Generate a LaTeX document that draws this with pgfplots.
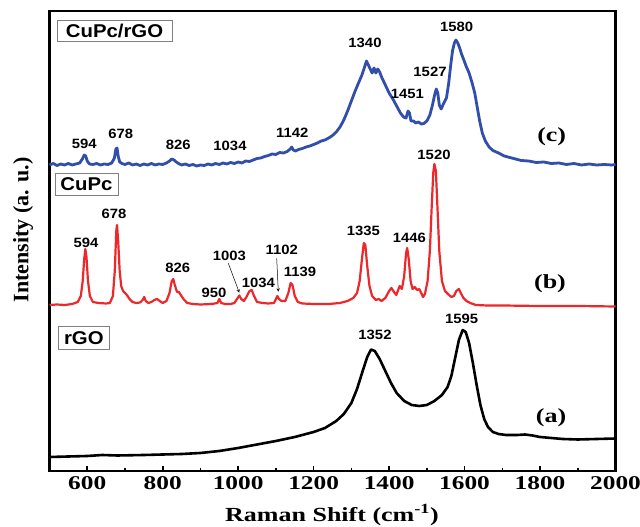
\documentclass[border=0pt]{standalone}
\usepackage{pgfplots}
\pgfplotsset{compat=1.18}
\usepackage{fontspec}
\setmainfont{Liberation Serif}
\newfontfamily\sansf{Liberation Sans}
\definecolor{cblue}{RGB}{48,78,170}
\definecolor{cred}{RGB}{236,40,42}
\newcommand{\sx}[1]{\scalebox{1.3}[1]{#1}}
\newcommand{\pk}[1]{\scalebox{1.1}[1]{\sansf\bfseries\fontsize{13.5}{13.5}\selectfont #1}}
\newcommand{\bx}[1]{\scalebox{1.1}[1]{\sansf\bfseries\fontsize{18.5}{18.5}\selectfont #1}}
\newcommand{\lab}[1]{\sx{\bfseries\fontsize{20}{20}\selectfont #1}}
\begin{document}
\begin{tikzpicture}[x=1pt,y=1pt]
\useasboundingbox (0,0) rectangle (640,527);
\begin{axis}[
  at={(49.5pt,56pt)}, anchor=south west,
  width=566pt, height=460pt, scale only axis,
  xmin=500, xmax=2000, ymin=0, ymax=460,
  xtick={600,800,...,2000},
  xticklabels={\sx{600},\sx{800},\sx{1000},\sx{1200},\sx{1400},\sx{1600},\sx{1800},\sx{2000}},
  minor x tick num=1,
  ytick=\empty,
  axis line style={line width=2.5pt},
  every tick/.style={black, line width=1.6pt},
  major tick length=5pt, minor tick length=3pt,
  xtick pos=bottom, tick align=inside,
  xticklabel style={font=\bfseries\fontsize{19.5}{19.5}\selectfont, yshift=-2pt},
  clip=false
]
% (a) rGO
\addplot[black, line width=2.6pt, line join=round] coordinates {
(500,14) (550,14.5) (600,15) (640,16) (680,15.5) (750,16) (800,16.5) (850,17)
(900,18) (950,20) (1000,23) (1050,26.5) (1100,30) (1150,34) (1200,39) (1230,43)
(1260,50) (1280,57) (1300,68) (1315,82) (1330,100) (1342,114) (1352,121.5)
(1362,120) (1375,112) (1390,100) (1405,88) (1420,78) (1440,70) (1460,66)
(1480,65) (1500,66) (1520,70) (1540,76) (1555,84) (1565,95) (1575,113)
(1585,131) (1595,141) (1603,139) (1612,128) (1622,108) (1632,86) (1642,66)
(1652,52) (1662,44) (1675,39) (1690,37) (1710,36) (1740,36) (1760,36.5)
(1780,35.5) (1800,34) (1830,33) (1860,32) (1900,31.5) (1950,32) (2000,32.5)
};
% (b) CuPc
\addplot[cred, line width=2.2pt, line join=round] coordinates {
(500,166) (520,166.5) (540,166) (560,167) (575,169) (583,175) (588,190)
(592,212) (595,222) (598,214) (602,190) (607,175) (615,169) (630,168)
(650,167.5) (660,168) (668,175) (673,200) (677,240) (679,246) (682,230)
(686,200) (690,185) (695,180) (700,178) (705,176) (712,172) (720,169)
(730,168) (740,168.5) (747,171) (751,174) (755,170) (762,168) (770,169)
(778,171) (785,172) (792,170) (800,168) (810,170) (818,178) (824,190)
(828,192) (832,186) (838,179) (843,179) (848,176) (855,172) (865,168)
(880,167) (900,166.5) (930,167) (945,168) (950,172) (955,168) (965,167)
(980,167) (990,168) (997,172) (1003,175.5) (1008,172) (1015,170) (1022,174)
(1030,180) (1036,181) (1042,175) (1050,169) (1065,168) (1080,167.5)
(1095,168) (1100,172) (1104,175) (1108,172) (1115,170) (1125,170) (1133,178)
(1139,188) (1144,186) (1150,175) (1158,169) (1170,167.5) (1200,167)
(1240,167) (1270,168) (1290,170) (1305,173) (1315,178) (1322,190) (1328,212)
(1333,228) (1337,226) (1342,205) (1348,185) (1355,175) (1365,171) (1372,172)
(1380,170) (1390,173) (1400,180) (1406,183) (1413,179) (1419,176) (1424,181)
(1428,185) (1434,182) (1440,195) (1445,218) (1448,223) (1452,212) (1457,190)
(1462,182) (1468,184) (1474,181) (1480,182) (1485,178) (1490,174) (1495,177)
(1502,190) (1508,220) (1513,265) (1517,298) (1520,307) (1524,300) (1528,265)
(1533,220) (1540,190) (1548,180) (1556,177) (1565,174) (1572,175) (1578,180)
(1585,182) (1590,178) (1597,173) (1605,170) (1615,168) (1630,166)
(1660,165.5) (1700,165.5) (1800,165) (1900,165) (2000,164.5)
};
% (c) CuPc/rGO
\addplot[cblue, line width=2.8pt, line join=round] coordinates {
(500,306) (510,307.5) (520,305.5) (530,307) (540,306) (550,307.5) (560,306)
(570,307) (580,308) (587,312) (592,316) (596,315) (600,310) (606,307)
(615,306.5) (625,307.5) (635,306) (645,307) (655,306.5) (665,308) (672,313)
(676,322) (679,323) (682,315) (686,309) (692,307.5) (700,306.5) (710,308)
(720,306) (730,307) (740,305.5) (750,307) (760,306) (770,307.5) (780,306)
(790,307) (800,306.5) (810,308) (818,310) (824,312) (830,311) (836,309)
(842,307.5) (850,306) (860,307) (870,305.5) (880,306.5) (890,305) (900,306)
(910,305.5) (920,307) (930,306) (940,307.5) (950,306.5) (960,308) (970,307)
(980,308.5) (990,307.5) (1000,309) (1010,308) (1020,310) (1030,309.5)
(1040,311) (1050,312.5) (1060,313) (1070,314.5) (1080,315.5) (1090,317)
(1100,316.5) (1110,318.5) (1120,318) (1130,319.5) (1138,322) (1142,324)
(1146,321) (1152,320) (1160,321.5) (1170,322.5) (1180,324) (1190,325)
(1200,326.5) (1210,328) (1220,330) (1230,331) (1240,333) (1250,335.5)
(1260,339) (1270,344) (1280,351) (1290,360) (1300,370) (1310,380) (1320,389)
(1328,396) (1335,404) (1340,410) (1345,406) (1350,402) (1355,398) (1360,403)
(1365,398) (1370,402) (1375,399) (1380,394) (1385,390) (1390,386) (1395,382)
(1400,378) (1410,372) (1420,365) (1430,358) (1438,354) (1445,353) (1450,360)
(1454,358) (1458,350) (1465,350) (1470,348) (1478,349) (1485,347)
(1492,347.5) (1500,350) (1508,356) (1515,366) (1520,375) (1525,382)
(1529,378) (1533,366) (1538,362) (1545,368) (1552,373) (1558,388) (1563,405)
(1568,420) (1573,428) (1577,431) (1582,428) (1587,423) (1592,417) (1598,411)
(1605,404) (1612,398) (1620,388) (1627,378) (1633,365) (1640,350) (1647,338)
(1655,330) (1665,324) (1675,320.5) (1690,318) (1705,315) (1720,313.5)
(1735,312) (1750,310.5) (1770,310) (1790,308.5) (1810,309) (1830,307.5)
(1850,308) (1870,306.5) (1890,307.5) (1910,306) (1930,307) (1950,306)
(1970,306.5) (1990,306) (2000,306.5)
};
\end{axis}
% axis titles
\node[rotate=90] at (23,297) {\bfseries\fontsize{22}{22}\selectfont Intensity (a. u.)};
\node at (332,12) {\sx{\bfseries\fontsize{20}{20}\selectfont Raman Shift (cm\textsuperscript{-1})}};
% sample boxes
\draw[gray, line width=0.8pt] (57,486) rectangle (172,507);
\node at (114.5,496.5) {\bx{CuPc/rGO}};
\draw[gray, line width=0.8pt] (55,332) rectangle (118,354);
\node at (86.5,343) {\bx{CuPc}};
\draw[gray, line width=0.8pt] (58.3,177.7) rectangle (109.3,201);
\node at (83.8,189.3) {\bx{rGO}};
% (a) (b) (c)
\node at (551.7,390.3) {\lab{(c)}};
\node at (550,243.7) {\lab{(b)}};
\node at (551,109) {\lab{(a)}};
% blue peak labels
\node at (84.3,382.7) {\pk{594}};
\node at (120.7,392.7) {\pk{678}};
\node at (178.3,382) {\pk{826}};
\node at (230,381) {\pk{1034}};
\node at (292.3,394.3) {\pk{1142}};
\node at (365,483.7) {\pk{1340}};
\node at (407.3,432.7) {\pk{1451}};
\node at (430,455.3) {\pk{1527}};
\node at (456.7,499.7) {\pk{1580}};
% red peak labels
\node at (86,284.3) {\pk{594}};
\node at (114,312.7) {\pk{678}};
\node at (177.7,258.7) {\pk{826}};
\node at (214,234.3) {\pk{950}};
\node at (229.3,271) {\pk{1003}};
\node at (258.3,244.3) {\pk{1034}};
\node at (281.7,277) {\pk{1102}};
\node at (300,255.3) {\pk{1139}};
\node at (363.3,296.3) {\pk{1335}};
\node at (409.3,288.7) {\pk{1446}};
\node at (434,372) {\pk{1520}};
\draw[-stealth, line width=0.5pt] (228.3,263.7) -- (239.3,234.3);
\draw[-stealth, line width=0.5pt] (276.7,268.7) -- (278.3,235.3);
% black peak labels
\node at (375,192) {\pk{1352}};
\node at (461.7,208) {\pk{1595}};
\end{tikzpicture}
\end{document}
